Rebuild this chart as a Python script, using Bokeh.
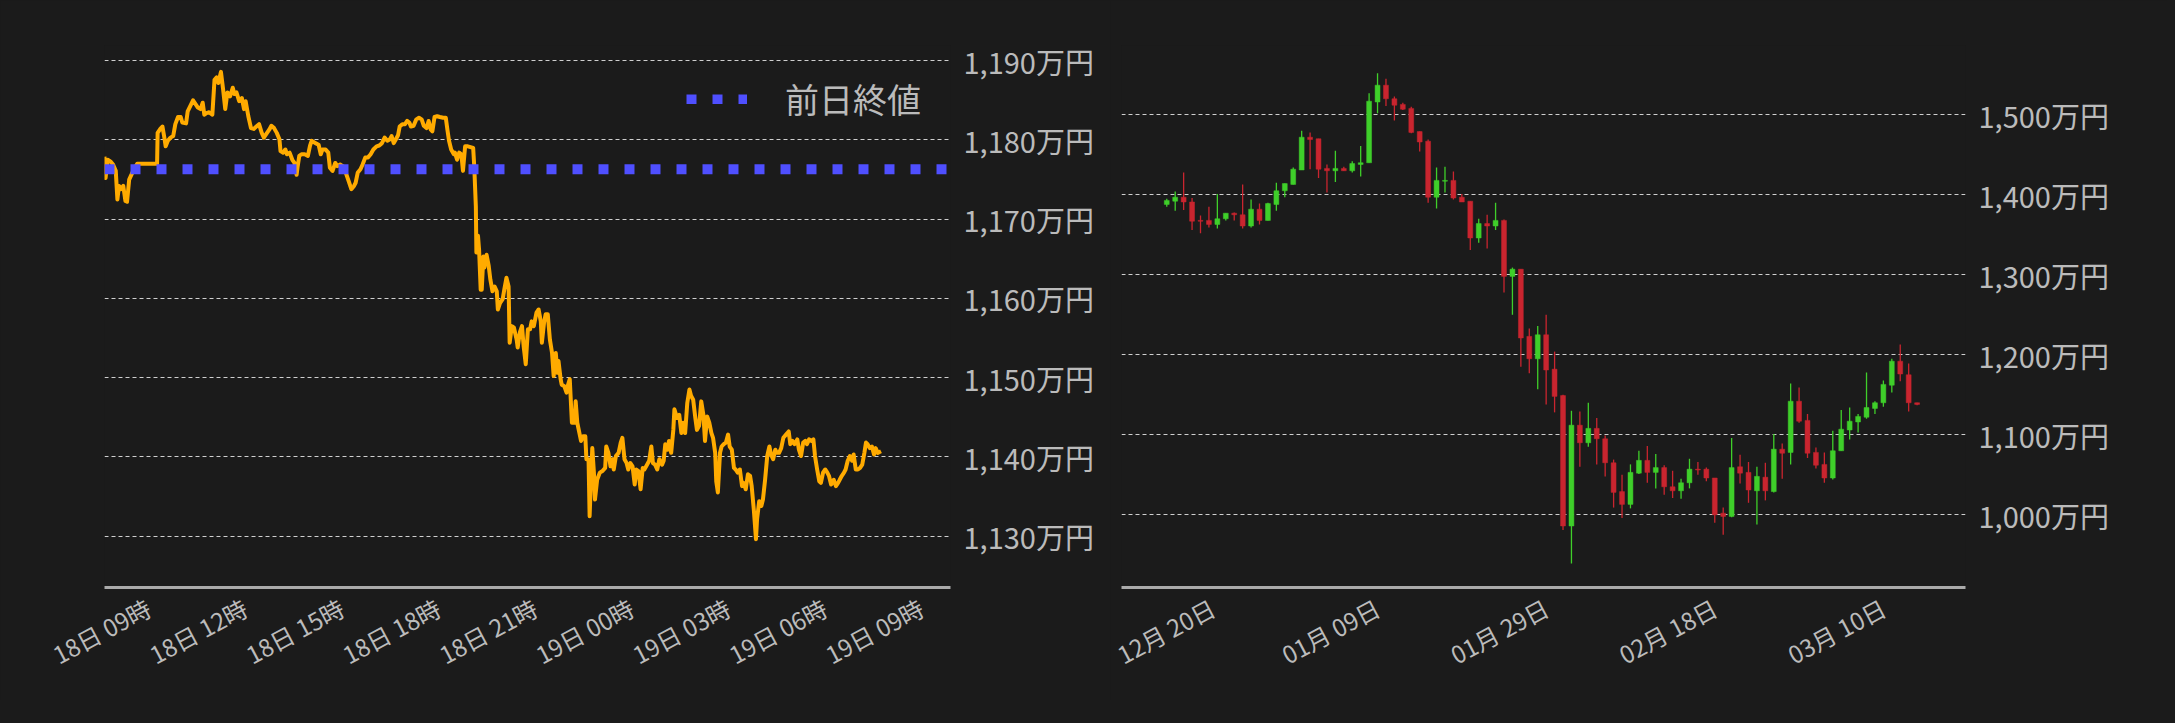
from bokeh.plotting import figure
from bokeh.layouts import row
from bokeh.models import ColumnDataSource, FixedTicker, Legend, LegendItem, Range1d
from bokeh.embed import file_html
from bokeh.resources import INLINE

BG = "#1b1b1b"
TEXT = "#bbbbbb"
GRID = "#cfcfcf"
FONT = "Noto Sans CJK JP"
ORANGE = "#ffab00"
BLUE = "#4f4fff"
RED = "#c9252f"
GREEN = "#3fcf2a"

# --- 24h chart: minutes since 18日 00:00, price in 万円 ---
minutes = [458, 460, 464, 469, 474, 479, 482, 485, 489, 493, 497, 500, 504, 508, 513, 519, 538, 556,
           557, 562, 566, 570, 572, 576, 581, 586, 590, 595, 600, 603, 610, 613, 618, 623, 628, 632,
           637, 641, 644, 648, 653, 659, 663, 667, 670, 675, 679, 683, 687, 692, 697, 700, 704, 709,
           714, 718, 721, 726, 731, 736, 741, 746, 751, 755, 759, 765, 769, 774, 779, 784, 786, 791,
           795, 798, 803, 808, 812, 816, 818, 821, 825, 831, 837, 841, 844, 851, 857, 861, 864, 870,
           875, 878, 883, 888, 892, 897, 902, 905, 909, 913, 918, 923, 926, 930, 935, 939, 944, 949,
           954, 959, 965, 970, 975, 980, 985, 990, 993, 997, 1001, 1005, 1008, 1013, 1018, 1022, 1026,
           1029, 1034, 1039, 1044, 1049, 1053, 1058, 1062, 1066, 1069, 1073, 1078, 1083, 1089, 1094,
           1097, 1100, 1104, 1109, 1111, 1115, 1119, 1123, 1126, 1130, 1135, 1140, 1145, 1147,
           1150, 1151, 1154, 1156, 1159, 1161, 1164, 1166, 1170, 1174, 1177, 1181, 1185, 1189, 1191,
           1195, 1200, 1203, 1207, 1211, 1213, 1217, 1221, 1226, 1228, 1232, 1236, 1239, 1243, 1247,
           1251, 1254, 1258, 1263, 1267, 1271, 1273, 1277, 1280, 1284, 1288, 1292, 1295, 1299, 1302,
           1304, 1308, 1310, 1315, 1319, 1321, 1325, 1329, 1334, 1336, 1339, 1343, 1346, 1350, 1354,
           1356, 1360, 1362, 1365, 1367, 1370, 1372, 1376, 1381, 1386, 1391, 1393, 1397, 1401, 1405,
           1407, 1411, 1416, 1420, 1423, 1427, 1431, 1434, 1438, 1442, 1446, 1449, 1453, 1457, 1461,
           1464, 1469, 1473, 1477, 1480, 1484, 1488, 1492, 1497, 1500, 1503, 1507, 1510, 1514, 1518,
           1520, 1525, 1529, 1533, 1536, 1540, 1544, 1548, 1551, 1555, 1559, 1562, 1566, 1570, 1574,
           1577, 1581, 1585, 1589, 1592, 1596, 1598, 1601, 1605, 1608, 1612, 1616, 1620, 1623, 1627,
           1631, 1634, 1638, 1642, 1646, 1649, 1653, 1657, 1661, 1664, 1668, 1672, 1674, 1678, 1682,
           1685, 1689, 1693, 1697, 1700, 1704, 1708, 1711, 1715, 1719, 1723, 1728, 1733, 1736, 1740,
           1744, 1749, 1752, 1756, 1760, 1764, 1767, 1771, 1775, 1779, 1782, 1786, 1790, 1793, 1797,
           1801, 1805, 1808, 1812, 1817, 1821, 1825, 1828, 1832, 1836, 1839, 1843, 1847, 1851, 1854,
           1858, 1862, 1866, 1870, 1874, 1877, 1880, 1884, 1888, 1892, 1895, 1899, 1905]
prices = [1177.9, 1175.2, 1177.5, 1177.3, 1176.9, 1176.1, 1172.5, 1174.2, 1173.8, 1174.2, 1172.3, 1172.2,
          1175.0, 1175.6, 1176.3, 1177.0, 1177.0, 1177.0, 1180.9, 1181.4, 1181.7, 1180.1, 1179.2, 1179.9,
          1180.3, 1180.5, 1182.0, 1182.9, 1182.9, 1182.2, 1182.1, 1183.6, 1184.3, 1185.0, 1184.5, 1184.1,
          1183.9, 1184.7, 1183.2, 1183.4, 1183.5, 1183.2, 1187.6, 1187.9, 1187.2, 1188.6, 1186.4, 1183.9,
          1186.0, 1185.5, 1186.6, 1185.8, 1186.0, 1184.9, 1185.3, 1183.9, 1184.9, 1183.0, 1181.5, 1181.4,
          1181.7, 1182.0, 1180.9, 1180.3, 1180.7, 1181.3, 1181.8, 1181.5, 1180.9, 1180.1, 1178.6, 1178.4,
          1178.8, 1178.2, 1178.4, 1177.5, 1177.1, 1175.6, 1176.7, 1178.0, 1178.2, 1178.2, 1178.0, 1179.3,
          1179.9, 1179.6, 1179.4, 1178.2, 1178.8, 1178.8, 1178.4, 1176.5, 1176.1, 1177.1, 1176.7, 1176.9,
          1176.7, 1176.3, 1175.6, 1174.8, 1173.8, 1174.2, 1174.6, 1175.9, 1176.3, 1176.9, 1177.8, 1177.8,
          1178.2, 1178.8, 1179.2, 1179.3, 1179.6, 1180.3, 1179.9, 1180.1, 1180.5, 1179.6, 1180.1, 1180.6,
          1181.7, 1182.0, 1182.0, 1182.4, 1182.2, 1181.7, 1181.8, 1182.6, 1182.8, 1182.6, 1181.8, 1181.5,
          1182.4, 1181.3, 1181.1, 1182.9, 1183.0, 1182.9, 1182.8, 1182.8, 1181.3, 1179.9, 1178.8, 1178.2,
          1178.4, 1177.5, 1178.4, 1178.2, 1176.1, 1179.2, 1179.2, 1179.1, 1179.0, 1176.7,
          1171.6, 1165.8, 1167.9, 1166.2, 1161.1, 1161.1, 1165.3, 1163.9, 1165.5, 1164.1, 1162.4, 1160.9,
          1161.5, 1160.9, 1158.6, 1159.4, 1159.9, 1161.1, 1162.6, 1161.5, 1154.4, 1156.5, 1156.3, 1154.8,
          1153.8, 1155.7, 1156.5, 1154.0, 1151.7, 1156.1, 1156.1, 1157.1, 1156.5, 1158.2, 1158.6, 1157.1,
          1154.4, 1156.9, 1158.0, 1158.0, 1154.8, 1153.1, 1150.2, 1153.1, 1150.6, 1152.1, 1149.8, 1149.1,
          1148.9, 1148.1, 1148.9, 1149.8, 1144.3, 1144.3, 1147.0, 1144.3, 1143.0, 1142.0, 1142.6, 1142.6,
          1139.7, 1139.7, 1132.5, 1138.0, 1141.1, 1138.0, 1134.6, 1137.1, 1138.0, 1138.2, 1138.6, 1141.3,
          1140.5, 1138.8, 1139.7, 1138.4, 1140.1, 1140.5, 1141.8, 1142.4, 1139.7, 1139.2, 1138.4, 1139.2,
          1138.8, 1136.5, 1138.4, 1138.2, 1135.9, 1138.6, 1138.4, 1139.0, 1139.5, 1141.3, 1139.2, 1139.0,
          1138.4, 1139.7, 1139.0, 1139.5, 1141.6, 1140.9, 1142.0, 1140.5, 1143.4, 1146.0, 1144.9, 1145.3,
          1143.0, 1144.3, 1143.0, 1146.8, 1148.5, 1147.7, 1147.2, 1144.9, 1143.4, 1143.9, 1147.0, 1145.3,
          1142.0, 1145.1, 1144.3, 1143.0, 1142.4, 1140.5, 1136.9, 1135.5, 1140.5, 1141.3, 1141.6, 1141.8,
          1142.8, 1141.3, 1140.9, 1138.6, 1138.4, 1138.0, 1138.4, 1136.3, 1136.7, 1135.9, 1137.8, 1137.6,
          1136.3, 1133.3, 1129.6, 1132.1, 1134.4, 1133.8, 1134.6, 1137.1, 1140.1, 1141.3, 1140.3, 1139.7,
          1140.9, 1140.5, 1140.5, 1141.1, 1142.4, 1142.8, 1143.2, 1141.6, 1142.0, 1141.6, 1142.2, 1140.9,
          1140.1, 1141.8, 1142.0, 1141.6, 1142.2, 1142.0, 1142.2, 1140.1, 1138.4, 1136.9, 1136.7, 1138.0,
          1138.4, 1138.0, 1137.6, 1136.5, 1137.1, 1136.3, 1136.7, 1137.1, 1137.6, 1138.0, 1138.4, 1139.5,
          1140.1, 1139.5, 1140.3, 1138.4, 1138.4, 1138.6, 1139.0, 1140.5, 1141.8, 1141.6, 1141.1, 1141.3,
          1140.3, 1141.1, 1140.5, 1140.7]
prev_close = 1176.3
hour_ticks = [540, 720, 900, 1080, 1260, 1440, 1620, 1800, 1980]
hour_labels = ["18日 09時", "18日 12時", "18日 15時", "18日 18時", "18日 21時",
               "19日 00時", "19日 03時", "19日 06時", "19日 09時"]
price_ticks = [1130, 1140, 1150, 1160, 1170, 1180, 1190]

# --- daily candles, day 0 = 12月15日, price in 万円 ---
opens = [1388, 1392, 1397, 1391, 1368, 1368, 1363, 1370, 1377, 1375, 1361, 1382, 1368, 1388, 1405,
         1413, 1431, 1472, 1470, 1433, 1430, 1433, 1430, 1438, 1440, 1516, 1537, 1520, 1513, 1508,
         1479, 1467, 1397, 1417, 1418, 1397, 1392, 1346, 1364, 1361, 1368, 1298, 1307, 1223, 1195,
         1225, 1182, 1149, 986, 1112, 1090, 1108, 1095, 1065, 1029, 1013, 1052, 1068, 1053, 1059,
         1035, 1030, 1040, 1057, 1057, 1046, 1002, 998, 1060, 1053, 1030, 1047, 1029, 1082, 1078,
         1142, 1118, 1078, 1063, 1046, 1080, 1106, 1116, 1122, 1133, 1140, 1162, 1192, 1175, 1140]
highs = [1395, 1404, 1428, 1396, 1374, 1385, 1401, 1377, 1378, 1413, 1394, 1389, 1390, 1415, 1414,
         1434, 1480, 1478, 1470, 1438, 1455, 1435, 1442, 1461, 1527, 1552, 1545, 1523, 1515, 1510,
         1479, 1469, 1434, 1435, 1429, 1401, 1392, 1370, 1375, 1390, 1369, 1309, 1307, 1233, 1236,
         1250, 1204, 1150, 1130, 1129, 1140, 1121, 1099, 1069, 1050, 1063, 1080, 1086, 1076, 1062,
         1055, 1045, 1070, 1066, 1059, 1046, 1009, 1096, 1075, 1066, 1060, 1065, 1101, 1089, 1164,
         1159, 1126, 1084, 1078, 1105, 1131, 1134, 1126, 1178, 1142, 1168, 1195, 1213, 1189, 1140]
lows = [1385, 1380, 1381, 1356, 1352, 1359, 1358, 1368, 1368, 1358, 1359, 1363, 1368, 1380, 1397,
        1413, 1431, 1432, 1421, 1403, 1416, 1430, 1428, 1423, 1440, 1502, 1511, 1493, 1506, 1477,
        1454, 1390, 1383, 1403, 1394, 1391, 1331, 1340, 1333, 1356, 1278, 1250, 1185, 1177, 1157,
        1138, 1128, 981, 939, 1060, 1085, 1063, 1048, 1009, 996, 1008, 1051, 1040, 1033, 1025,
        1021, 1020, 1033, 1050, 1042, 990, 975, 997, 1039, 1015, 988, 1018, 1028, 1045, 1063,
        1115, 1071, 1058, 1040, 1044, 1080, 1094, 1103, 1120, 1126, 1135, 1153, 1167, 1129, 1137]
closes = [1393, 1397, 1391, 1367, 1367, 1363, 1370, 1377, 1375, 1361, 1382, 1368, 1389, 1405, 1414,
          1432, 1472, 1469, 1432, 1430, 1433, 1430, 1439, 1440, 1517, 1537, 1520, 1512, 1507, 1478,
          1466, 1397, 1418, 1418, 1396, 1391, 1346, 1364, 1361, 1368, 1298, 1307, 1221, 1195, 1225,
          1181, 1148, 986, 1112, 1090, 1108, 1095, 1065, 1028, 1013, 1053, 1068, 1053, 1059, 1035,
          1030, 1040, 1057, 1056, 1046, 1000, 998, 1059, 1052, 1031, 1048, 1030, 1082, 1077, 1142,
          1117, 1077, 1062, 1046, 1080, 1107, 1117, 1123, 1134, 1140, 1163, 1192, 1176, 1140, 1138]
day_ticks = [5, 25, 45, 65, 85]
day_labels = ["12月 20日", "01月 09日", "01月 29日", "02月 18日", "03月 10日"]
daily_ticks = [1000, 1100, 1200, 1300, 1400, 1500]


def style_chart(p, xticks, xlabels, yticks):
    p.background_fill_color = BG
    p.border_fill_color = BG
    p.outline_line_color = None
    p.xgrid.visible = False
    p.ygrid.ticker = FixedTicker(ticks=yticks)
    p.ygrid.grid_line_color = GRID
    p.ygrid.grid_line_dash = "4 3"
    p.ygrid.grid_line_width = 1

    xa = p.xaxis[0]
    xa.ticker = FixedTicker(ticks=xticks)
    xa.major_label_overrides = dict(zip(xticks, xlabels))
    xa.major_label_orientation = 0.49
    xa.axis_line_color = "#aaaaaa"
    xa.axis_line_width = 3
    xa.major_tick_line_color = None
    xa.minor_tick_line_color = None
    xa.major_label_standoff = 12
    xa.major_label_text_font = FONT
    xa.major_label_text_font_size = "24px"
    xa.major_label_text_color = TEXT

    ya = p.yaxis[0]
    ya.ticker = FixedTicker(ticks=yticks)
    ya.major_label_overrides = {t: "{:,}万円".format(t) for t in yticks}
    ya.axis_line_color = None
    ya.major_tick_line_color = None
    ya.minor_tick_line_color = None
    ya.major_tick_out = 0
    ya.major_label_standoff = 13
    ya.major_label_text_font = FONT
    ya.major_label_text_font_size = "29px"
    ya.major_label_text_color = TEXT


# left: last 24 hours
x_start, x_end = 458, 2034.5
p1 = figure(width=1110, height=700, output_backend="svg", toolbar_location=None,
            x_range=Range1d(x_start, x_end), y_range=Range1d(1123.5, 1191.93),
            y_axis_location="right",
            min_border_left=104, min_border_right=160, min_border_top=45, min_border_bottom=113)
style_chart(p1, hour_ticks, hour_labels, price_ticks)

p1.line(minutes, prices, line_color=ORANGE, line_width=4, line_join="round")
prev_line = p1.line([x_start, x_end], [prev_close, prev_close], line_color=BLUE,
                    line_width=10, line_dash="10 16")

legend = Legend(items=[LegendItem(label="前日終値", renderers=[prev_line])],
                location="top_right", glyph_width=61, glyph_height=10, label_standoff=38,
                label_text_font=FONT, label_text_font_size="34px", label_text_color=TEXT,
                background_fill_alpha=0, border_line_color=None, margin=29, padding=33)
p1.add_layout(legend)

# right: daily candles
days = list(range(len(opens)))
up = [c > o for o, c in zip(opens, closes)]
source = ColumnDataSource(data=dict(
    day=days,
    top=[max(o, c) for o, c in zip(opens, closes)],
    bottom=[min(o, c) for o, c in zip(opens, closes)],
    high=highs,
    low=lows,
    color=[GREEN if u else RED for u in up],
))

p2 = figure(width=1057, height=700, output_backend="svg", toolbar_location=None,
            x_range=Range1d(-5.37, 94.74), y_range=Range1d(909.1, 1586.6),
            y_axis_location="right",
            min_border_left=11, min_border_right=202, min_border_top=45, min_border_bottom=113)
style_chart(p2, day_ticks, day_labels, daily_ticks)

p2.segment(x0="day", y0="low", x1="day", y1="high", line_color="color", line_width=1.3, source=source)
p2.vbar(x="day", width=0.58, top="top", bottom="bottom", fill_color="color", line_color="color",
        line_width=0.5, source=source)

layout = row(p1, p2)
html = file_html(layout, INLINE)
html = html.replace("</head>", "<style>body{background:%s;}</style></head>" % BG)
open("out.html", "w").write(html)
